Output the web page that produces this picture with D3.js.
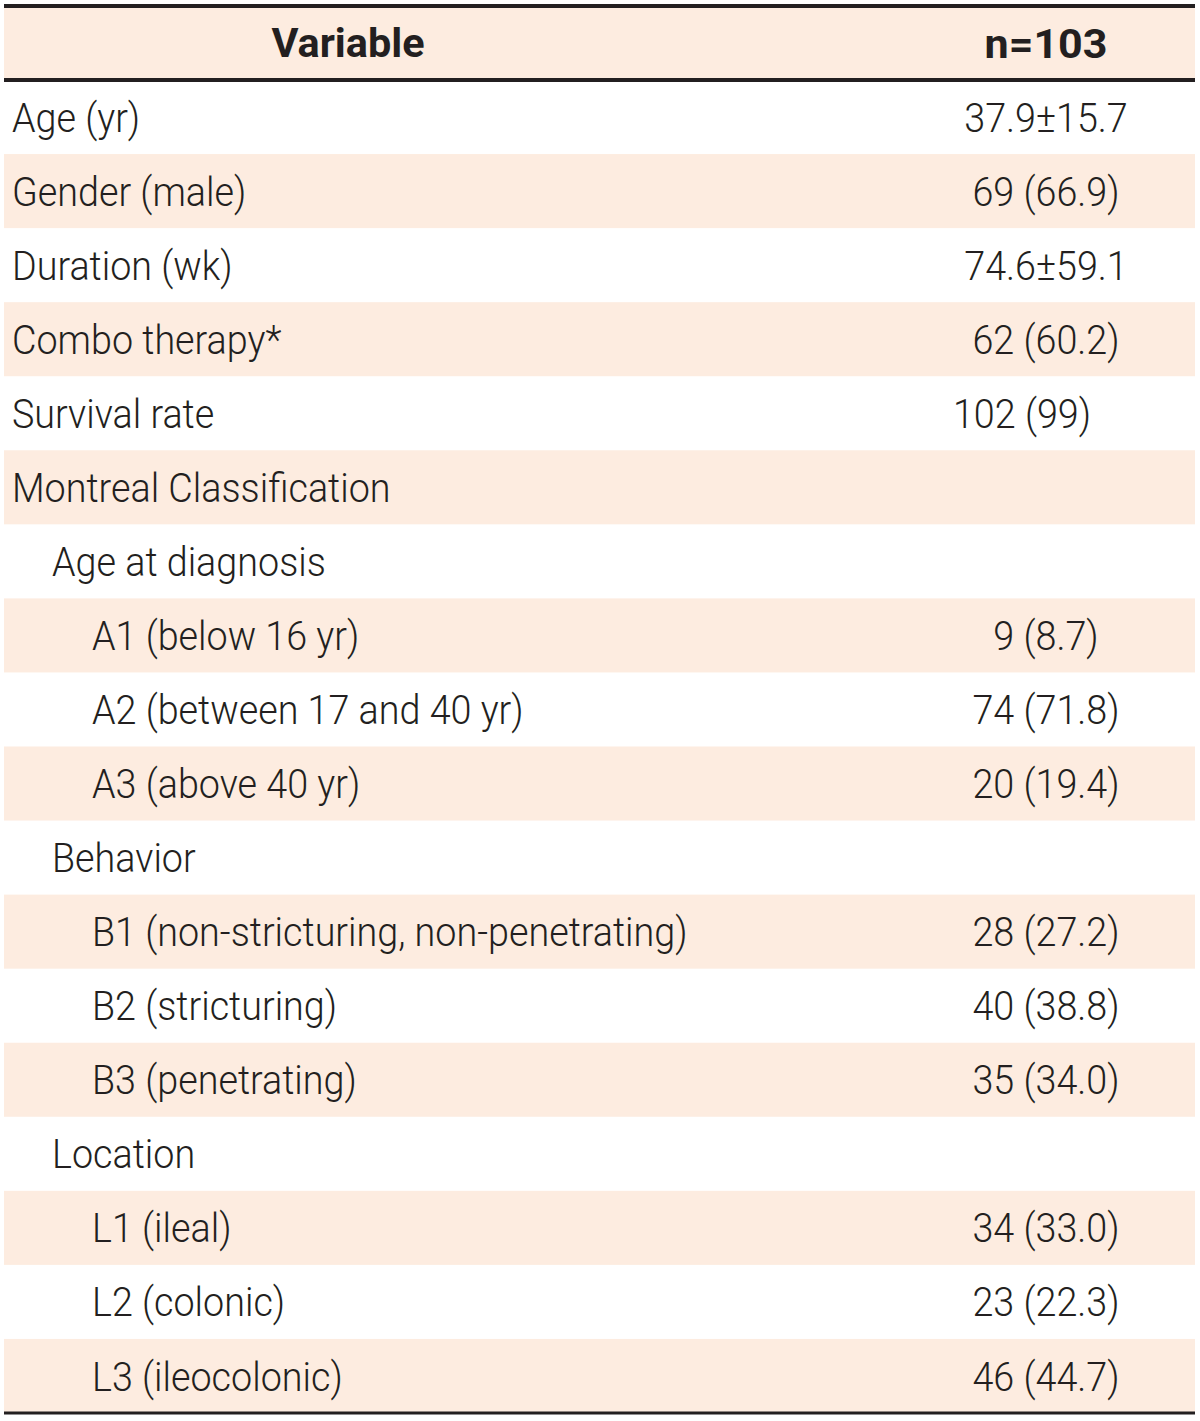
<!DOCTYPE html>
<html><head><meta charset="utf-8">
<script src="https://cdn.jsdelivr.net/npm/d3@7"></script>
<style>body{margin:0;background:#fff}</style>
</head><body>
<script>
const headers = ["Variable", "n=103"];
const variables = ["Age (yr)","Gender (male)","Duration (wk)","Combo therapy*","Survival rate","Montreal Classification","Age at diagnosis","A1 (below 16 yr)","A2 (between 17 and 40 yr)","A3 (above 40 yr)","Behavior","B1 (non-stricturing, non-penetrating)","B2 (stricturing)","B3 (penetrating)","Location","L1 (ileal)","L2 (colonic)","L3 (ileocolonic)"];
const indentLevels = [0,0,0,0,0,0,1,2,2,2,1,2,2,2,1,2,2,2];
const values = ["37.9±15.7","69 (66.9)","74.6±59.1","62 (60.2)","102 (99)","","","9 (8.7)","74 (71.8)","20 (19.4)","","28 (27.2)","40 (38.8)","35 (34.0)","","34 (33.0)","23 (22.3)","46 (44.7)"];

const W = 1200, H = 1421;
const left = 4, right = 1195, headTop = 6, headBottom = 80, bodyTop = 80, bodyBottom = 1413;
const shade = "#fdece0", ink = "#231f20";
const fontFam = "Roboto, 'Noto Sans', sans-serif";
const fs = 41;

const svg = d3.select("body").append("svg").attr("width", W).attr("height", H);
const y = d3.scaleBand().domain(d3.range(variables.length)).range([bodyTop, bodyBottom]).padding(0);
const colX = {label: 12, value: 1046};

svg.append("rect").attr("x", left).attr("y", headTop).attr("width", right-left).attr("height", headBottom-headTop).attr("fill", shade);
svg.selectAll("rect.row").data(d3.range(variables.length).filter(i => i % 2 === 1)).join("rect")
  .attr("class","row").attr("x", left).attr("y", i => y(i)).attr("width", right-left).attr("height", y.bandwidth()).attr("fill", shade);

function txt(g, s, x, yy, anchor, weight, sx) {
  return g.append("text").attr("transform", `translate(${x},${yy}) scale(${sx},1)`)
    .attr("text-anchor", anchor).attr("dominant-baseline","central")
    .attr("font-family", fontFam).attr("font-size", fs).attr("font-weight", weight).attr("fill", ink).text(s);
}
const hy = (headTop+headBottom)/2 + 0.5;
txt(svg, headers[0], 348, hy, "middle", 700, 1.01);
txt(svg, headers[1], colX.value, hy, "middle", 700, 1.05);

variables.forEach((v, i) => {
  const cy = y(i) + y.bandwidth()/2 + 0.5;
  txt(svg, v, colX.label + indentLevels[i]*40, cy, "start", 300, 0.92);
  if (values[i]) {
    const shift = v === "Survival rate" ? -24 : 0;
    txt(svg, values[i], colX.value + shift, cy, "middle", 300, 0.92);
  }
});

[[headTop, 4], [headBottom, 4], [bodyBottom, 3]].forEach(([yy, w]) => {
  svg.append("line").attr("x1", left).attr("x2", right).attr("y1", yy).attr("y2", yy).attr("stroke", ink).attr("stroke-width", w);
});
</script>
</body></html>
